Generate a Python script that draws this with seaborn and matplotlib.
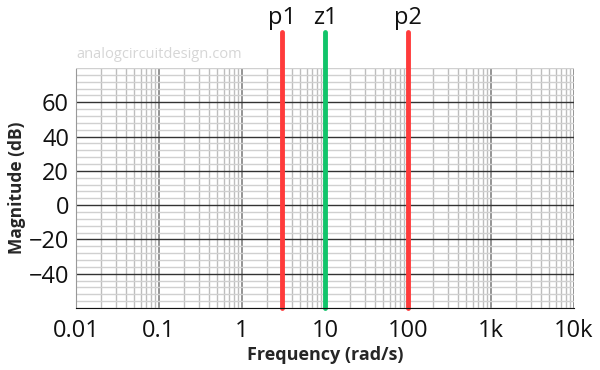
import numpy as np
import matplotlib
matplotlib.use("Agg")
import matplotlib.pyplot as plt
import seaborn as sns
from matplotlib.ticker import FixedLocator, MultipleLocator, LogLocator, NullFormatter

# pole / zero positions (rad/s)
pz_freq = [3, 10, 100]
pz_label = ["p1", "z1", "p2"]
pz_color = ["#ff3b3b", "#11c46a", "#ff3b3b"]

x_ticks = [0.01, 0.1, 1, 10, 100, 1000, 10000]
x_ticklabels = ["0.01", "0.1", "1", "10", "100", "1k", "10k"]
y_ticks = [-40, -20, 0, 20, 40, 60]

sns.set_style("white")
plt.rcParams["font.family"] = ["Open Sans", "DejaVu Sans"]

fig = plt.figure(figsize=(6, 3.7), dpi=100)
ax = fig.add_axes([76 / 600, 62 / 370, 498 / 600, 240 / 370])

ax.set_xscale("log")
ax.set_xlim(0.01, 10000)
ax.set_ylim(-60, 80)

ax.xaxis.set_major_locator(FixedLocator(x_ticks))
ax.set_xticklabels(x_ticklabels)
ax.xaxis.set_minor_locator(LogLocator(base=10, subs=np.arange(2, 10)))
ax.xaxis.set_minor_formatter(NullFormatter())
ax.yaxis.set_major_locator(FixedLocator(y_ticks))
ax.yaxis.set_minor_locator(MultipleLocator(4))

ax.grid(which="minor", axis="x", color="#bdbdbd", lw=1)
ax.grid(which="minor", axis="y", color="#d0d0d0", lw=1)
ax.grid(which="major", axis="x", color="#777777", lw=1.1)
ax.grid(which="major", axis="y", color="#333333", lw=1)
ax.set_axisbelow(True)

ax.tick_params(axis="both", which="both", length=0, labelsize=17, colors="#111111")
ax.tick_params(axis="x", pad=8)
ax.tick_params(axis="y", pad=5)

for s in ["top", "right"]:
    ax.spines[s].set_visible(False)
ax.spines["bottom"].set_color("#111111")
ax.spines["left"].set_color("#999999")
ax.spines["left"].set_linestyle((0, (3, 1)))

for f, lab, c in zip(pz_freq, pz_label, pz_color):
    ax.axvline(f, ymin=0, ymax=1.15, color=c, lw=3.5, clip_on=False)
    ax.text(f, 1.21, lab, transform=ax.get_xaxis_transform(), ha="center",
            va="center", fontsize=17, color="#111111")

ax.text(0.0, 1.058, "analogcircuitdesign.com", transform=ax.transAxes,
        fontsize=10.5, color="#d6d6d6", ha="left", va="center")

ax.set_xlabel("Frequency (rad/s)", fontsize=13, fontweight="bold", labelpad=2)
ax.set_ylabel("Magnitude (dB)", fontsize=12.5, fontweight="bold", labelpad=2)

fig.savefig("out.png", dpi=100)
